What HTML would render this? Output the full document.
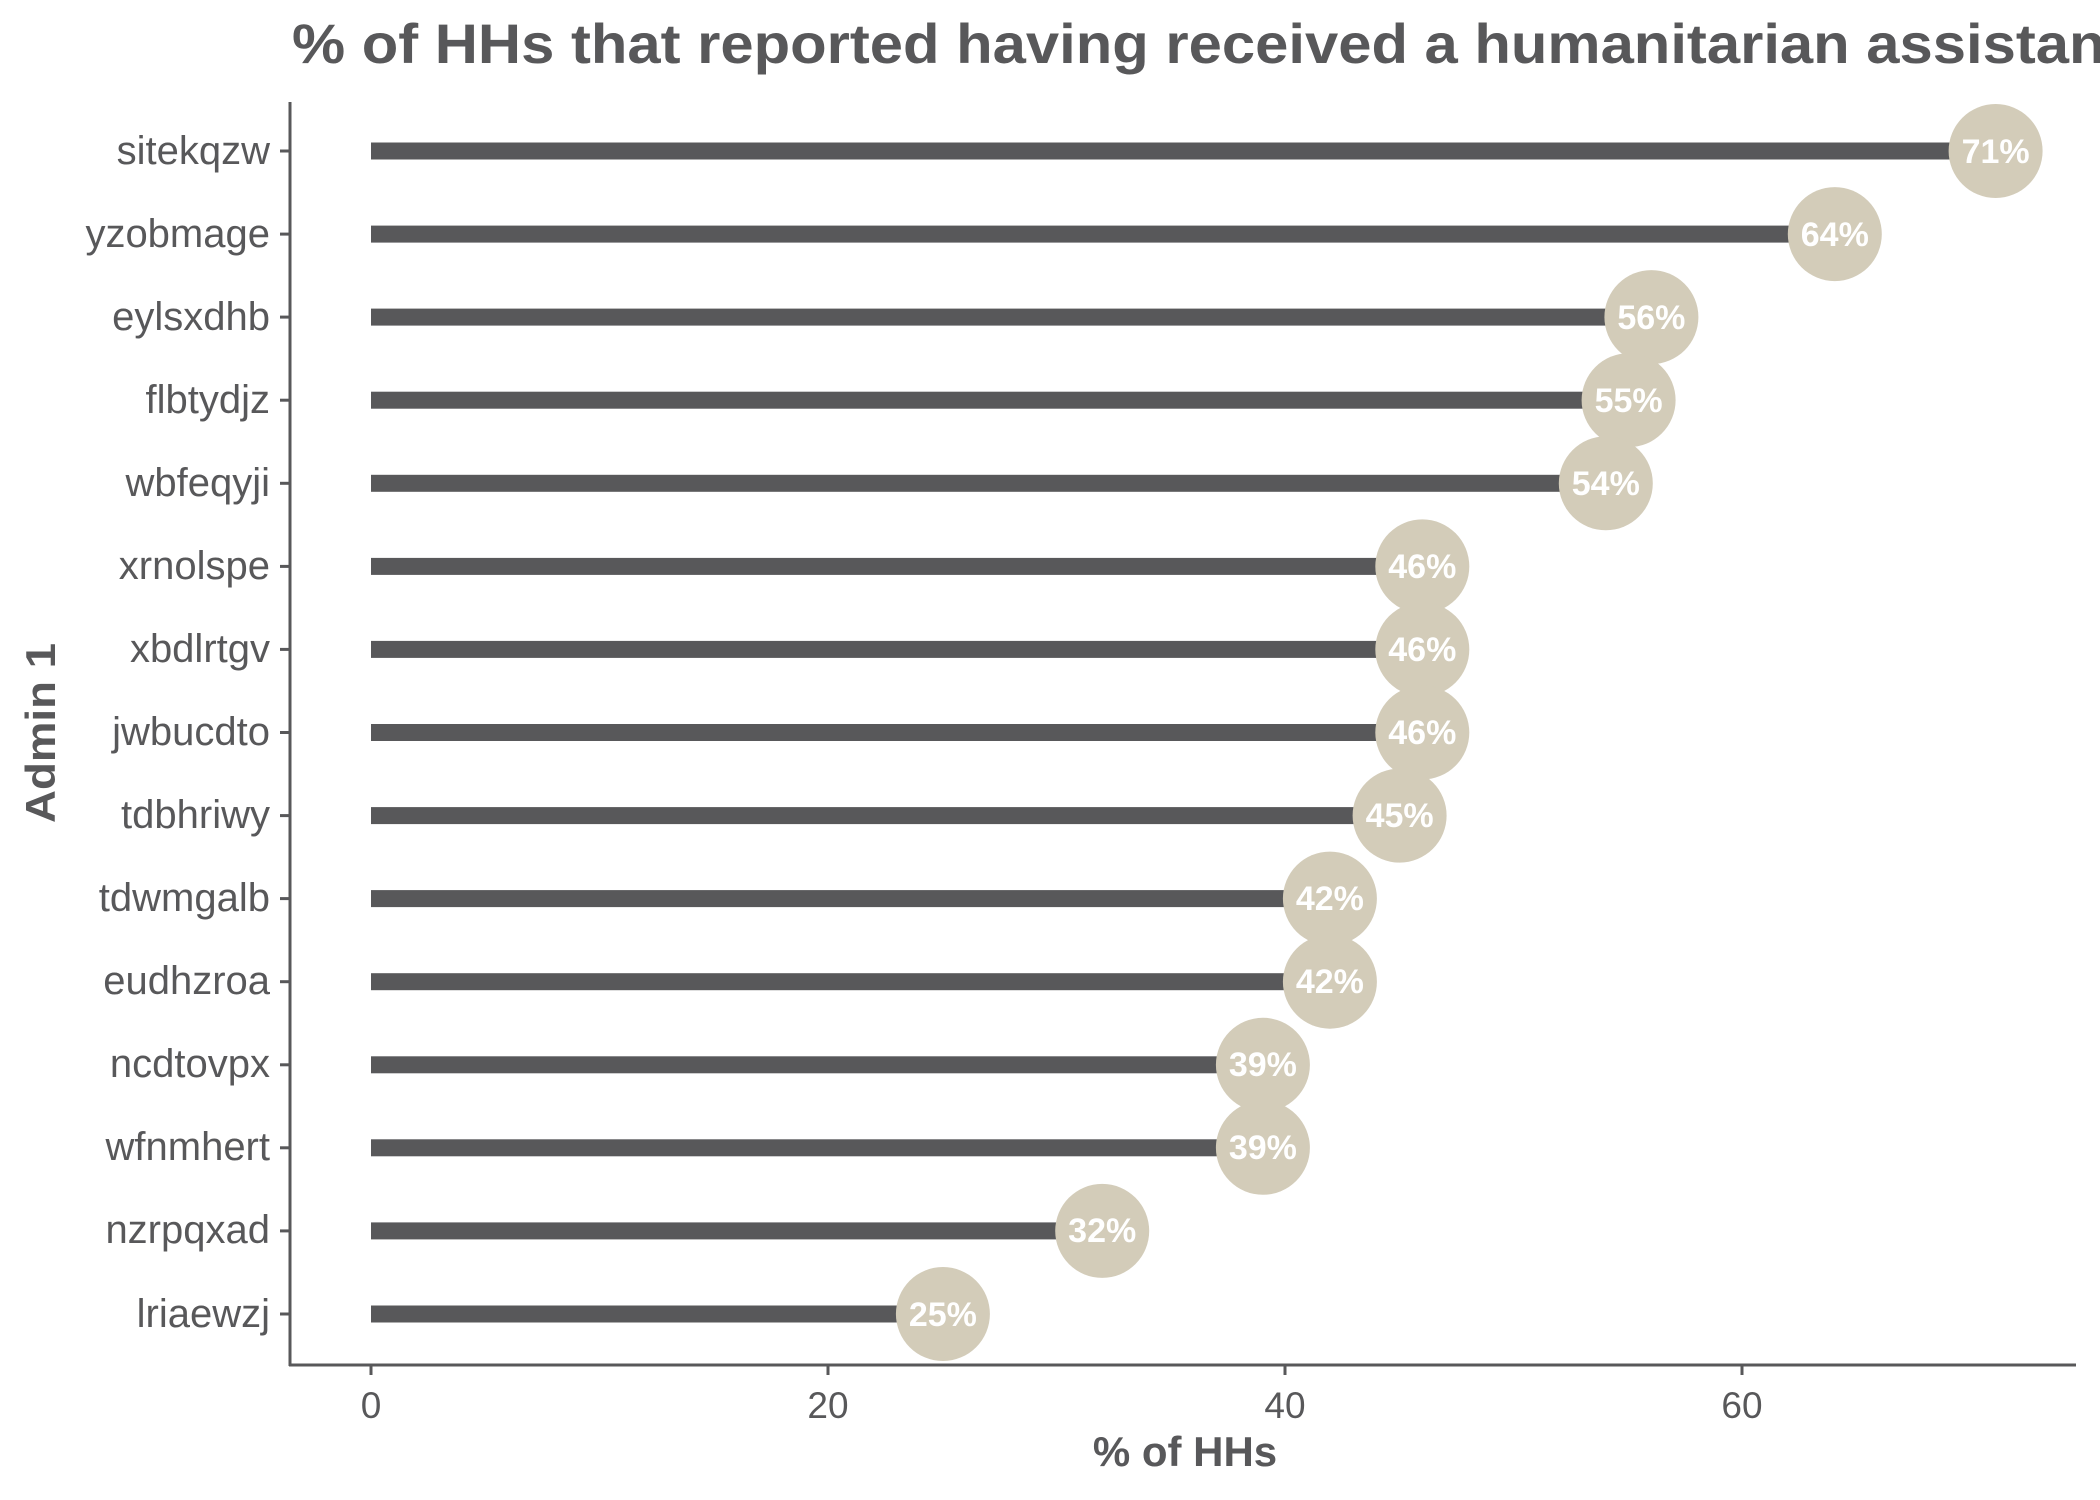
<!DOCTYPE html>
<html><head><style>body{margin:0;background:#fff}svg{display:block}</style></head><body>
<svg width="2100" height="1500" xmlns="http://www.w3.org/2000/svg" font-family="Liberation Sans, sans-serif">
<text x="292" y="63" font-size="56" font-weight="bold" fill="#58585a" textLength="1880" lengthAdjust="spacingAndGlyphs">% of HHs that reported having received a humanitarian assistance</text>
<line x1="290" y1="102" x2="290" y2="1366" stroke="#58585a" stroke-width="3"/>
<line x1="289" y1="1365" x2="2076" y2="1365" stroke="#58585a" stroke-width="3"/>
<g stroke="#58585a" stroke-width="3">
<line x1="371" y1="1365" x2="371" y2="1375"/><line x1="828" y1="1365" x2="828" y2="1375"/><line x1="1285" y1="1365" x2="1285" y2="1375"/><line x1="1742" y1="1365" x2="1742" y2="1375"/>
</g>
<g font-size="37" fill="#58585a" text-anchor="middle">
<text x="371" y="1418">0</text><text x="828" y="1418">20</text><text x="1285" y="1418">40</text><text x="1742" y="1418">60</text>
</g>
<text x="1185" y="1466" font-size="42" font-weight="bold" fill="#58585a" text-anchor="middle">% of HHs</text>
<text transform="translate(55,733) rotate(-90)" font-size="42" font-weight="bold" fill="#58585a" text-anchor="middle" textLength="180" lengthAdjust="spacingAndGlyphs">Admin 1</text>

<g stroke="#58585a" stroke-width="3">
<line x1="280" y1="151" x2="290" y2="151"/><line x1="280" y1="234.1" x2="290" y2="234.1"/><line x1="280" y1="317.1" x2="290" y2="317.1"/><line x1="280" y1="400.2" x2="290" y2="400.2"/><line x1="280" y1="483.3" x2="290" y2="483.3"/><line x1="280" y1="566.4" x2="290" y2="566.4"/><line x1="280" y1="649.4" x2="290" y2="649.4"/><line x1="280" y1="732.5" x2="290" y2="732.5"/><line x1="280" y1="815.6" x2="290" y2="815.6"/><line x1="280" y1="898.6" x2="290" y2="898.6"/><line x1="280" y1="981.7" x2="290" y2="981.7"/><line x1="280" y1="1064.8" x2="290" y2="1064.8"/><line x1="280" y1="1147.8" x2="290" y2="1147.8"/><line x1="280" y1="1230.9" x2="290" y2="1230.9"/><line x1="280" y1="1314" x2="290" y2="1314"/>
</g>
<g font-size="40" fill="#58585a" text-anchor="end">
<text x="270" y="164">sitekqzw</text><text x="270" y="247">yzobmage</text><text x="270" y="330">eylsxdhb</text><text x="270" y="413">flbtydjz</text><text x="270" y="496">wbfeqyji</text><text x="270" y="579">xrnolspe</text><text x="270" y="662">xbdlrtgv</text><text x="270" y="745">jwbucdto</text><text x="270" y="828">tdbhriwy</text><text x="270" y="911">tdwmgalb</text><text x="270" y="994">eudhzroa</text><text x="270" y="1077">ncdtovpx</text><text x="270" y="1160">wfnmhert</text><text x="270" y="1243">nzrpqxad</text><text x="270" y="1327">lriaewzj</text>
</g>
<g fill="#58585a">
<rect x="371" y="142.5" width="1624.6" height="17"/>
<rect x="371" y="225.6" width="1463.8" height="17"/>
<rect x="371" y="308.6" width="1280.4" height="17"/>
<rect x="371" y="391.7" width="1257.6" height="17"/>
<rect x="371" y="474.8" width="1234.8" height="17"/>
<rect x="371" y="557.9" width="1051.3" height="17"/>
<rect x="371" y="640.9" width="1051.3" height="17"/>
<rect x="371" y="724" width="1051.3" height="17"/>
<rect x="371" y="807.1" width="1028.6" height="17"/>
<rect x="371" y="890.1" width="958.9" height="17"/>
<rect x="371" y="973.2" width="958.9" height="17"/>
<rect x="371" y="1056.3" width="891.9" height="17"/>
<rect x="371" y="1139.3" width="891.9" height="17"/>
<rect x="371" y="1222.4" width="731.2" height="17"/>
<rect x="371" y="1305.5" width="571.9" height="17"/>
</g>
<g fill="#d3ccb9">
<circle cx="1995.6" cy="151" r="47"/><circle cx="1834.8" cy="234.1" r="47"/><circle cx="1651.4" cy="317.1" r="47"/><circle cx="1628.6" cy="400.2" r="47"/><circle cx="1605.8" cy="483.3" r="47"/><circle cx="1422.3" cy="566.4" r="47"/><circle cx="1422.3" cy="649.4" r="47"/><circle cx="1422.3" cy="732.5" r="47"/><circle cx="1399.6" cy="815.6" r="47"/><circle cx="1329.9" cy="898.6" r="47"/><circle cx="1329.9" cy="981.7" r="47"/><circle cx="1262.9" cy="1064.8" r="47"/><circle cx="1262.9" cy="1147.8" r="47"/><circle cx="1102.2" cy="1230.9" r="47"/><circle cx="942.9" cy="1314" r="47"/>
</g>
<g font-size="34" font-weight="bold" fill="#fff" text-anchor="middle">
<text x="1995.6" y="163">71%</text><text x="1834.8" y="246">64%</text><text x="1651.4" y="329">56%</text><text x="1628.6" y="412">55%</text><text x="1605.8" y="495">54%</text><text x="1422.3" y="578">46%</text><text x="1422.3" y="661">46%</text><text x="1422.3" y="744">46%</text><text x="1399.6" y="827">45%</text><text x="1329.9" y="910">42%</text><text x="1329.9" y="993">42%</text><text x="1262.9" y="1076">39%</text><text x="1262.9" y="1159">39%</text><text x="1102.2" y="1242">32%</text><text x="942.9" y="1326">25%</text>
</g>
</svg>
</body></html>
